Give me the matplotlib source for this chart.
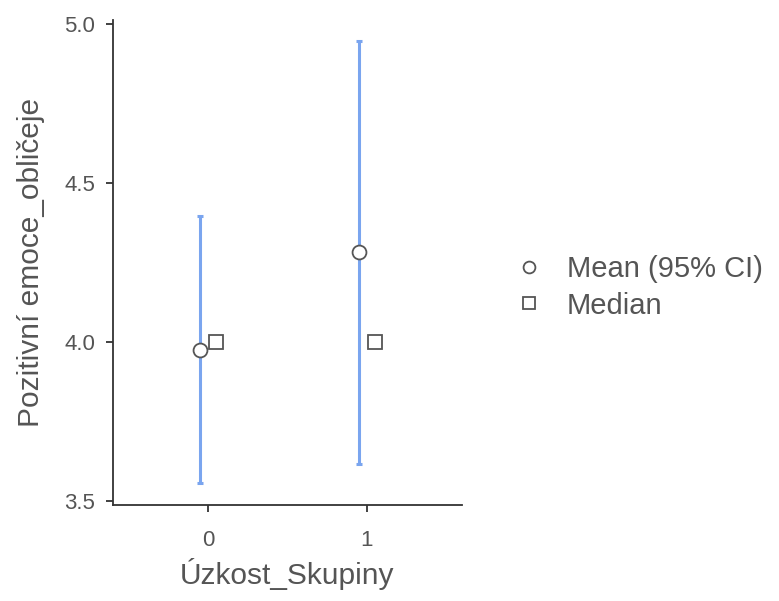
import numpy as np
import matplotlib.pyplot as plt
from matplotlib.lines import Line2D

plt.rcParams['font.family'] = ['Liberation Sans', 'DejaVu Sans']

groups = [0, 1]
means = [3.975, 4.283]
ci_low = [3.557, 3.617]
ci_high = [4.395, 4.947]
medians = [4.0, 4.0]

fig = plt.figure(figsize=(7.79, 6.01), dpi=100)
ax = fig.add_axes([0.145, 0.16, 0.448, 0.807])

x = np.array(groups, dtype=float)
m = np.array(means)
err = [m - np.array(ci_low), np.array(ci_high) - m]

ax.errorbar(x - 0.05, m, yerr=err, fmt='none', ecolor='#7aa5ef',
            elinewidth=2.2, capsize=2.5, capthick=2.2, zorder=2)
ax.plot(x - 0.05, m, 'o', ms=10, mfc='white', mec='#555555', mew=1.3, zorder=3)
ax.plot(x + 0.05, medians, 's', ms=9.5, mfc='white', mec='#555555', mew=1.3, zorder=3)

ax.set_xlim(-0.6, 1.6)
ax.set_ylim(3.487, 5.013)
ax.set_xticks(groups)
ax.set_yticks([3.5, 4.0, 4.5, 5.0])
ax.set_yticklabels(['3.5', '4.0', '4.5', '5.0'])

for s in ['top', 'right']:
    ax.spines[s].set_visible(False)
for s in ['left', 'bottom']:
    ax.spines[s].set_color('#333333')
    ax.spines[s].set_linewidth(1.3)
ax.tick_params(colors='#333333', labelcolor='#555555', labelsize=16,
               length=5, width=1.3)
ax.tick_params(axis='x', pad=13)
ax.tick_params(axis='y', pad=8)

ax.set_xlabel('Úzkost_Skupiny', fontsize=21.5, color='#555555', labelpad=5)
ax.set_ylabel('Pozitivní emoce_obličeje', fontsize=21.5, color='#555555', labelpad=14)

handles = [
    Line2D([], [], ls='none', marker='o', ms=8.5, mfc='white', mec='#555555', mew=1.3),
    Line2D([], [], ls='none', marker='s', ms=8, mfc='white', mec='#555555', mew=1.3),
]
fig.legend(handles, ['Mean (95% CI)', 'Median'], loc='center left',
           bbox_to_anchor=(0.645, 0.522), frameon=False, fontsize=21,
           labelcolor='#555555', handlelength=0.8, handletextpad=0.9,
           labelspacing=0.3, borderpad=0)

fig.savefig('out.png', dpi=100)
